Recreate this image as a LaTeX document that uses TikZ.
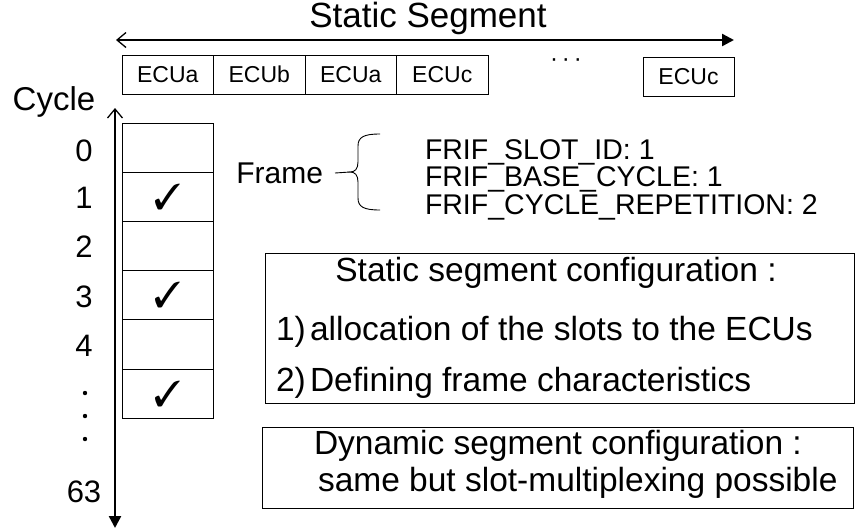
\documentclass[tikz,border=0pt]{standalone}
\usepackage{fontspec}
\setmainfont{Liberation Sans}
\usepackage{pifont}
\usetikzlibrary{arrows.meta}
\begin{document}
\begin{tikzpicture}[x=1pt,y=-1pt,
  every node/.style={inner sep=0pt, outer sep=0pt},
  slot/.style={draw, line width=0.9pt, minimum width=91.5pt, minimum height=39pt,
    font=\fontsize{23}{23}\selectfont},
  cell/.style={draw, line width=0.9pt, minimum width=91pt, minimum height=49.2pt},
  axislabel/.style={font=\fontsize{31}{31}\selectfont},
  param/.style={font=\fontsize{28.5}{28.5}\selectfont, anchor=base west},
  boxtext/.style={font=\fontsize{33.5}{33.5}\selectfont, anchor=base west},
  infobox/.style={draw, line width=0.9pt, anchor=north west},
  axis/.style={line width=2.4pt},
  axistips/.style={{Straight Barb[length=9pt,width=15pt,line width=1.3pt]}-{Triangle[length=12pt,width=12pt]}},
  check/.style={font=\fontsize{36}{36}\selectfont},
  gapdot/.style={circle, fill, minimum size=4.4pt}
]
\useasboundingbox (0,0) rectangle (862,528);

% static segment: title and double arrow
\node[font=\fontsize{35}{35}\selectfont] (title) at (428,18) {Static Segment};
\coordinate (segL) at (116,40);
\coordinate (segR) at (734,40);
\draw[axis, axistips] (segL) -- (segR);

% slots of the static segment
\node[slot] (s1) at (167.75,74.5) {ECUa};
\node[slot] (s2) at (259.25,74.5) {ECUb};
\node[slot] (s3) at (350.75,74.5) {ECUa};
\node[slot] (s4) at (442.25,74.5) {ECUc};
\node[font=\fontsize{24}{24}\selectfont] (sdots) at (566,63) {\textperiodcentered\,\textperiodcentered\,\textperiodcentered};
\node[slot, minimum width=91pt] (sn) at (688.5,76.5) {ECUc};

% cycle axis
\node[font=\fontsize{33}{33}\selectfont] (cyc) at (54,102) {Cycle};
\coordinate (cycT) at (115,108);
\coordinate (cycB) at (115,528);
\draw[axis, axistips] (cycT) -- (cycB);

\foreach \i/\lab/\yy in {0/0/151,1/1/198,2/2/247,3/3/297,4/4/346}
  \node[axislabel] (k\i) at (84,\yy) {\lab};
% vertical ellipsis between cycle 4 and 63
\foreach \j/\yy in {1/393,2/416,3/439}
  \node[gapdot] (gd\j) at (85,\yy) {};
\node[axislabel] (k63) at (84,492) {63};

% one slot over the cycles
\foreach \i in {0,...,5}
  \node[cell] (c\i) at (167.5,{123+49.2*(\i+0.5)}) {};
\foreach \i in {1,3,5}
  \node[check] (ok\i) at (c\i) {\ding{51}};

% frame parameters with brace
\node[font=\fontsize{30}{30}\selectfont, anchor=east] (frame) at (323,173) {Frame};
\coordinate (tip) at (350,172);
\coordinate (btop) at (380,134);
\coordinate (bbot) at (380,210);
\draw[line width=0.9pt] ([xshift=12pt]frame.east) -- (tip);
\draw[line width=0.9pt] (btop) .. controls (364,134) and (358,137) .. (358,146)
  -- (358,162) .. controls (358,169) and (355,172) .. (tip)
  .. controls (355,172) and (358,175) .. (358,182)
  -- (358,198) .. controls (358,207) and (364,210) .. (bbot);
\node[param] (p1) at (425,159) {FRIF\_SLOT\_ID: 1};
\node[param] (p2) at (425,186.5) {FRIF\_BASE\_CYCLE: 1};
\node[param] (p3) at (425,214) {FRIF\_CYCLE\_REPETITION: 2};

% configuration boxes
\node[infobox, minimum width=589pt, minimum height=150pt] (static) at (265,253) {};
\node[font=\fontsize{33.5}{33.5}\selectfont, anchor=base] (st) at (556,281) {Static segment configuration :};
\node[boxtext] (n1) at (276,340) {1)};
\node[boxtext] (t1) at (310,340) {allocation of the slots to the ECUs};
\node[boxtext] (n2) at (276,391) {2)};
\node[boxtext] (t2) at (310,391) {Defining frame characteristics};

\node[infobox, minimum width=591pt, minimum height=81pt] (dynamic) at (262,427) {};
\node[boxtext] (dy1) at (314,454) {Dynamic segment configuration :};
\node[boxtext] (dy2) at (318,491) {same but slot-multiplexing possible};
\end{tikzpicture}
\end{document}
